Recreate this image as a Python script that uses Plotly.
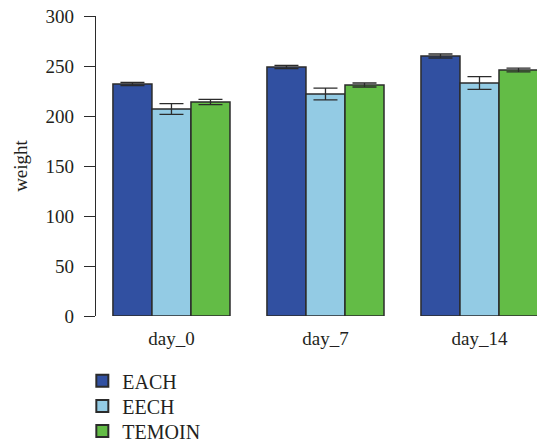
import plotly.graph_objects as go

# Body weight per group and sampling day (mean ± error)
days = ["day_0", "day_7", "day_14"]
groups = ["EACH", "EECH", "TEMOIN"]
colors = ["#3150a1", "#93cbe4", "#63bc46"]

each_mean = [232, 249, 260]
each_err = [1.5, 1.6, 2.0]
eech_mean = [207, 222, 233]
eech_err = [5.3, 5.8, 6.3]
temoin_mean = [214, 231, 246]
temoin_err = [2.7, 2.0, 1.8]

means = [each_mean, eech_mean, temoin_mean]
errors = [each_err, eech_err, temoin_err]

serif = "Liberation Serif"
ink = "#231f20"

# one legend box per group so the rows can sit close together
legend_ids = ["legend", "legend2", "legend3"]
legend_tops = [-0.1507, -0.235, -0.3183]

fig = go.Figure()
for name, color, m, e, lid in zip(groups, colors, means, errors, legend_ids):
    fig.add_trace(go.Bar(
        name=name,
        x=days,
        y=m,
        legend=lid,
        marker=dict(color=color, line=dict(color="#2b2b2b", width=1.5)),
        error_y=dict(type="data", array=e, visible=True,
                     color="#2b2b2b", thickness=1.3, width=12),
    ))

legend_style = dict(
    x=-0.031, xanchor="left",
    yanchor="top",
    orientation="v",
    font=dict(family=serif, size=20, color=ink),
    itemsizing="constant",
    bgcolor="rgba(0,0,0,0)",
)

fig.update_layout(
    width=537,
    height=443,
    margin=dict(l=96, r=0, t=16, b=127, autoexpand=False),
    barmode="group",
    bargap=0.24,
    bargroupgap=0,
    plot_bgcolor="white",
    paper_bgcolor="white",
    font=dict(family=serif, color=ink, size=18),
    showlegend=True,
    xaxis=dict(
        range=[-0.49, 2.3734],
        showline=False,
        ticks="",
        showgrid=False,
        zeroline=False,
        tickfont=dict(family=serif, size=19, color=ink),
        ticklabelstandoff=9,
    ),
    yaxis=dict(
        range=[0, 300],
        tickvals=[0, 50, 100, 150, 200, 250, 300],
        showline=True,
        linecolor="#2b2b2b",
        linewidth=1.2,
        ticks="outside",
        ticklen=11,
        tickwidth=1.2,
        tickcolor="#2b2b2b",
        showgrid=False,
        zeroline=False,
        tickfont=dict(family=serif, size=19, color=ink),
        ticklabelstandoff=6,
        title=dict(text="weight", font=dict(family=serif, size=19, color=ink), standoff=12),
    ),
)
for lid, top in zip(legend_ids, legend_tops):
    fig.update_layout({lid: dict(legend_style, y=top)})

fig.write_html("out.html")
